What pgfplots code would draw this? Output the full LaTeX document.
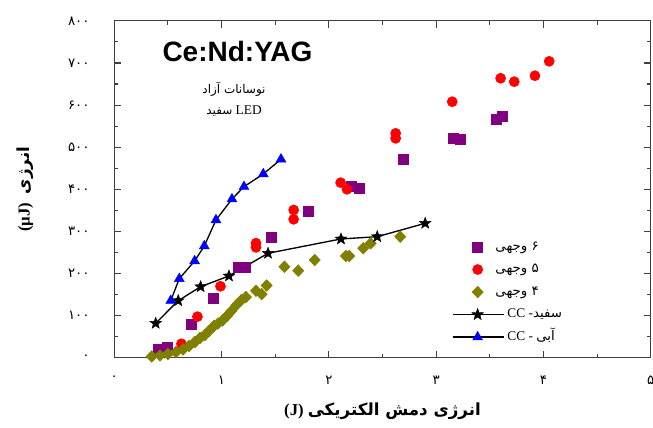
\documentclass[border=0pt]{standalone}
\usepackage{fontspec}
\usepackage{pgfplots}
\pgfplotsset{compat=1.18}
\TeXXeTstate=1
\setmainfont{Liberation Serif}
\newfontfamily\arabicfont[Script=Arabic]{DejaVu Sans}
\newfontfamily\tnr{Liberation Serif}
\newfontfamily\arialb{Liberation Sans}
\definecolor{cpurple}{RGB}{128,0,128}
\definecolor{colive}{RGB}{128,128,0}
\pgfdeclareplotmark{fstar}{%
 \pgfpathmoveto{\pgfpointpolar{90}{\pgfplotmarksize}}%
 \pgfpathlineto{\pgfpointpolar{126}{0.42\pgfplotmarksize}}%
 \pgfpathlineto{\pgfpointpolar{162}{\pgfplotmarksize}}%
 \pgfpathlineto{\pgfpointpolar{198}{0.42\pgfplotmarksize}}%
 \pgfpathlineto{\pgfpointpolar{234}{\pgfplotmarksize}}%
 \pgfpathlineto{\pgfpointpolar{270}{0.42\pgfplotmarksize}}%
 \pgfpathlineto{\pgfpointpolar{306}{\pgfplotmarksize}}%
 \pgfpathlineto{\pgfpointpolar{342}{0.42\pgfplotmarksize}}%
 \pgfpathlineto{\pgfpointpolar{18}{\pgfplotmarksize}}%
 \pgfpathlineto{\pgfpointpolar{54}{0.42\pgfplotmarksize}}%
 \pgfpathclose
 \pgfusepathqfillstroke
}
\pgfplotsset{linelegend/.style={legend image code/.code={%
  \draw[##1,overlay,mark=none] (-10.25pt,0pt) -- (28.5pt,0pt);
  \draw[##1] plot coordinates {(8.5pt,0pt)};}}}
\begin{document}
\begin{tikzpicture}
\begin{axis}[
 scale only axis, width=402.3pt, height=252.6pt,
 xmin=0, xmax=5, ymin=0, ymax=800,
 xtick={0,1,2,3,4,5}, xticklabels={۰,۱,۲,۳,۴,۵},
 ytick={0,100,200,300,400,500,600,700,800},
 yticklabels={۰,۱۰۰,۲۰۰,۳۰۰,۴۰۰,۵۰۰,۶۰۰,۷۰۰,۸۰۰},
 minor x tick num=1, minor y tick num=1,
 tick align=inside, major tick length=5pt, minor tick length=3pt,
 axis line style={black!75, line width=0.9pt},
 every tick/.style={black!75, line width=0.8pt},
 ticklabel style={font=\arabicfont\fontsize{10}{10}\selectfont},
 xticklabel style={yshift=-10pt},
 yticklabel style={xshift=-15pt},
 clip=false,
 xlabel={{\tnr\bfseries (J)}\ {\arabicfont\bfseries\beginR انرژی دمش الکتریکی\endR}},
 xlabel style={at={(axis description cs:0.5,-0.160)}, anchor=center, font=\fontsize{12.5}{14}\selectfont},
 ylabel={{\tnr\bfseries (µJ)}\ \ {\arabicfont\bfseries انرژی}},
 ylabel style={at={(axis description cs:-0.166,0.5)}, anchor=center, font=\fontsize{12.5}{14}\selectfont},
 legend cell align=left,
 legend style={draw=none, fill=none, at={(axis cs:3.33,281)}, anchor=north west,
   inner sep=0pt, row sep=5.9pt, column sep=9pt,
   font=\fontsize{10}{12}\selectfont,
   nodes={inner sep=0pt, text height=8pt, text depth=3pt}},
]
\addplot[only marks, mark=square*, mark size=3.7pt, color=cpurple] coordinates {
(0.405,20) (0.49,25) (0.715,80) (0.923,141.8) (1.156,213.8) (1.218,213.8) (1.460,285)
(1.808,346.8) (2.212,406.2) (2.283,401.4) (2.693,472) (3.159,521) (3.222,519.5)
(3.564,567) (3.616,574)};
\addlegendentry{\arabicfont\beginR ۶ وجهی\endR}
\addplot[only marks, mark=*, mark size=3.8pt, color=red] coordinates {
(0.626,33) (0.775,97.4) (0.990,169.6) (1.321,272) (1.321,262) (1.672,350.8) (1.672,328.7)
(2.110,415.7) (2.169,400) (2.623,533) (2.623,521) (3.150,608) (3.601,663.7) (3.728,655.6)
(3.921,669.8) (4.054,704)};
\addlegendentry{\arabicfont\beginR ۵ وجهی\endR}
\addplot[only marks, mark=diamond*, mark size=5.6pt, mark options={yscale=0.78}, color=colive] coordinates {
(0.349,2.9) (0.426,5.2) (0.500,8.8) (0.575,13.5) (0.641,19.5) (0.697,27.8) (0.752,37.3)
(0.799,46.8) (0.845,54) (0.883,63.4) (0.929,75.3) (0.967,81.2) (1.008,88.4) (1.050,99)
(1.092,111) (1.139,125) (1.185,137) (1.227,144) (1.321,159) (1.374,151) (1.420,171.5)
(1.586,216) (1.715,206.7) (1.868,232) (2.159,241.6) (2.190,241.6) (2.321,260)
(2.390,271.7) (2.665,287.4)};
\addlegendentry{\arabicfont\beginR ۴ وجهی\endR}
\addplot[black, line width=1pt, mark=fstar, mark size=4.6pt, mark options={fill=black, draw=black, line width=0.3pt}, linelegend] coordinates {
(0.386,81.7) (0.596,135.4) (0.805,168.6) (1.069,194.1) (1.433,248) (2.113,282) (2.451,287.4) (2.898,319.2)};
\addlegendentry{\hspace{9pt}{\tnr CC} -{\arabicfont سفید}}
\addplot[black, line width=1pt, mark=triangle*, mark size=4.3pt, mark options={fill=blue, draw=blue, line width=0.3pt}, linelegend] coordinates {
(0.526,135.4) (0.606,187.6) (0.749,229.7) (0.839,265.3) (0.948,327.1) (1.097,376.7)
(1.209,406.2) (1.389,436.3) (1.554,471.3)};
\addlegendentry{\hspace{9pt}{\tnr CC} - {\arabicfont آبی}}
\node[font=\arialb\bfseries\fontsize{21}{21}\selectfont] at (axis cs:1.148,726.8) {Ce:Nd:YAG};
\node[font=\arabicfont\fontsize{9}{9}\selectfont] at (axis cs:1.116,638) {\beginR نوسانات آزاد\endR};
\node[font=\fontsize{10}{10}\selectfont] at (axis cs:1.116,586) {{\arabicfont\fontsize{9}{9}\selectfont سفید} {\tnr LED}};
\coordinate (bbl) at (axis cs:-1.0652,-167);
\coordinate (btr) at (axis cs:5.0214,849.6);
\end{axis}
\pgfresetboundingbox
\path[use as bounding box] (bbl) rectangle (btr);
\end{tikzpicture}
\end{document}
